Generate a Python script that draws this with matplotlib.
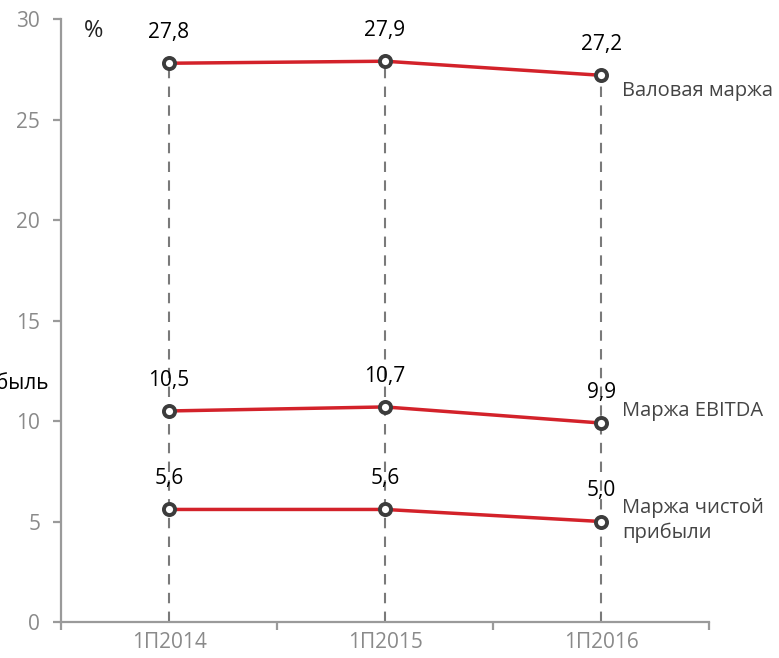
import matplotlib.pyplot as plt

plt.rcParams['font.family'] = ['Open Sans', 'DejaVu Sans']

periods = ['1П2014', '1П2015', '1П2016']
gross_margin = [27.8, 27.9, 27.2]
ebitda_margin = [10.5, 10.7, 9.9]
net_margin = [5.6, 5.6, 5.0]
series_names = ['Валовая маржа', 'Маржа EBITDA', 'Маржа чистой\nприбыли']
y_ticks = [0, 5, 10, 15, 20, 25, 30]

RED = '#d3222a'
AXIS_GRAY = '#9a9a9a'
TEXT_GRAY = '#444444'

fig = plt.figure(figsize=(7.79, 6.58), dpi=100)
ax = fig.add_axes([0.0783, 0.0547, 0.832, 0.9164])

x = list(range(len(periods)))
all_series = [gross_margin, ebitda_margin, net_margin]

# vertical guides from top point down to the axis
for xi in x:
    top = max(s[xi] for s in all_series)
    ax.plot([xi, xi], [0, top], color='#7a7a7a', lw=1.5,
            dashes=(5, 4), zorder=1)

for values, name in zip(all_series, series_names):
    ax.plot(x, values, color=RED, lw=2.5, zorder=2)
    ax.plot(x, values, 'o', ms=8, mfc='white', mec='#3c3c3c',
            mew=2.8, zorder=3)
    for xi, v in zip(x, values):
        ax.annotate(f'{v:.1f}'.replace('.', ','), (xi, v),
                    xytext=(0, 22), textcoords='offset points',
                    ha='center', va='center', fontsize=15, color='black')

# series labels on the right
ax.annotate(series_names[0], (x[-1], gross_margin[-1]), xytext=(15, -11),
            textcoords='offset points', ha='left', va='center',
            fontsize=14.5, color=TEXT_GRAY)
ax.annotate(series_names[1], (x[-1], ebitda_margin[-1]), xytext=(15, 9),
            textcoords='offset points', ha='left', va='center',
            fontsize=14.5, color=TEXT_GRAY)
ax.annotate(series_names[2], (x[-1], net_margin[-1]), xytext=(15, 1),
            textcoords='offset points', ha='left', va='center',
            fontsize=14.5, color=TEXT_GRAY, linespacing=1.3)

ax.set_xlim(-0.5, 2.5)
ax.set_ylim(0, 30)
ax.set_yticks(y_ticks)
ax.set_xticks(x)
ax.set_xticklabels(periods)
ax.set_xticks([-0.5, 0.5, 1.5, 2.5], minor=True)

for side in ['top', 'right']:
    ax.spines[side].set_visible(False)
for side in ['left', 'bottom']:
    ax.spines[side].set_color(AXIS_GRAY)
    ax.spines[side].set_linewidth(1.6)

ax.tick_params(axis='y', length=6, width=1.6, color=AXIS_GRAY, pad=9,
               labelsize=15, labelcolor='#8a8a8a')
ax.tick_params(axis='x', which='major', length=0, pad=7,
               labelsize=15, labelcolor='#8a8a8a')
ax.tick_params(axis='x', which='minor', length=6, width=1.6,
               color=AXIS_GRAY)
ax.set_facecolor('none')

fig.text(94 / 779, 1 - 31 / 658, '%', ha='center', va='center',
         fontsize=17, color='#222222')
fig.text(49 / 779, 1 - 383 / 658, 'прибыль', ha='right', va='center',
         fontsize=15, color='black')

fig.savefig('out.png', dpi=100)
